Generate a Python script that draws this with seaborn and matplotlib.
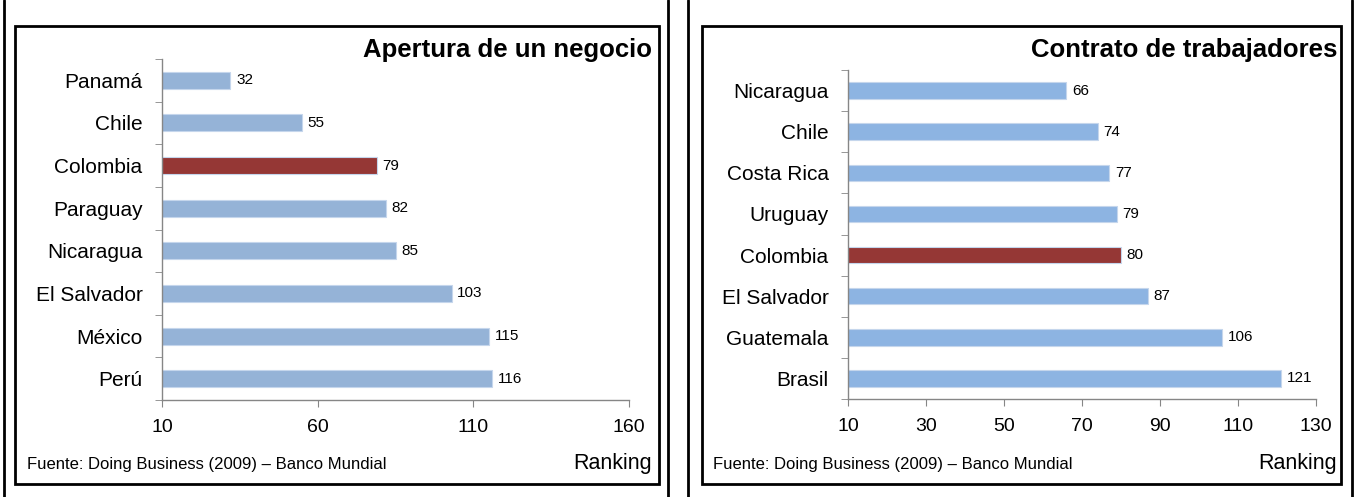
import numpy as np
import seaborn as sns
import matplotlib.pyplot as plt
from matplotlib.patches import Rectangle
from matplotlib.lines import Line2D

# data ########################################################################
paises_apertura = ['Panamá', 'Chile', 'Colombia', 'Paraguay', 'Nicaragua',
                   'El Salvador', 'México', 'Perú']
ranking_apertura = [32, 55, 79, 82, 85, 103, 115, 116]
ticks_apertura = [10, 60, 110, 160]

paises_contrato = ['Nicaragua', 'Chile', 'Costa Rica', 'Uruguay', 'Colombia',
                   'El Salvador', 'Guatemala', 'Brasil']
ranking_contrato = [66, 74, 77, 79, 80, 87, 106, 121]
ticks_contrato = [10, 30, 50, 70, 90, 110, 130]

fuente = 'Fuente: Doing Business (2009) – Banco Mundial'

sns.set_style('white')
plt.rcParams['font.family'] = ['Liberation Sans', 'DejaVu Sans']
plt.rcParams['text.color'] = 'black'

W, H = 1356, 497
fig = plt.figure(figsize=(W / 100, H / 100), dpi=100)


def px_axes(left, top, right, bottom):
    return fig.add_axes([left / W, 1 - bottom / H, (right - left) / W, (bottom - top) / H])


def panel(ax, paises, valores, ticks, titulo, azul, box, fuente_x, title_x):
    colores = ['#953735' if p == 'Colombia' else azul for p in paises]
    sns.barplot(x=valores, y=paises, hue=paises, palette=colores, legend=False,
                orient='h', width=0.4, ax=ax, saturation=1,
                edgecolor='#C5D6EC', linewidth=0.8)
    for c in ax.containers:
        ax.bar_label(c, padding=4, fontsize=11, color='black')
    ax.set_xlim(ticks[0], ticks[-1])
    ax.set_ylim(len(paises) - 0.5, -0.5)
    ax.set_xticks(ticks)
    ax.set_xticklabels([str(t) for t in ticks], fontsize=14)
    ax.tick_params(axis='x', direction='out', length=5, color='#868686', pad=9,
                   bottom=True, labelcolor='black')
    ax.tick_params(axis='y', which='major', length=0, labelsize=15, pad=14, labelcolor='black')
    ax.set_yticks(np.arange(-0.5, len(paises)), minor=True)
    ax.tick_params(axis='y', which='minor', direction='out', length=5, color='#868686', left=True)
    for s in ['top', 'right']:
        ax.spines[s].set_visible(False)
    for s in ['left', 'bottom']:
        ax.spines[s].set_color('#868686')
        ax.spines[s].set_linewidth(1)
    ax.set_xlabel('')
    ax.set_ylabel('')

    # marco del panel
    x0, y0, x1, y1 = box
    fig.patches.append(Rectangle((x0 / W, 1 - y1 / H), (x1 - x0) / W, (y1 - y0) / H,
                                 transform=fig.transFigure, fill=False,
                                 edgecolor='black', linewidth=2))
    fig.text(title_x / W, 1 - 50 / H, titulo, ha='right', va='center',
             fontsize=18.5, fontweight='bold')
    fig.text(fuente_x / W, 1 - 464 / H, fuente, ha='left', va='center', fontsize=12)
    fig.text(title_x / W, 1 - 463 / H, 'Ranking', ha='right', va='center', fontsize=15.5)


ax1 = px_axes(162, 59, 629, 400)
panel(ax1, paises_apertura, ranking_apertura, ticks_apertura,
      'Apertura de un negocio', '#95B3D7', (15, 26, 659, 484), 27, 652)

ax2 = px_axes(848, 70, 1316, 399)
panel(ax2, paises_contrato, ranking_contrato, ticks_contrato,
      'Contrato de trabajadores', '#8DB4E2', (702, 26, 1341, 484), 713, 1337)

# lineas verticales exteriores
for x in [4, 668, 688, 1352]:
    fig.lines.append(Line2D([x / W, x / W], [0, 1], transform=fig.transFigure,
                            color='black', linewidth=2))

fig.savefig('out.png', dpi=100)
